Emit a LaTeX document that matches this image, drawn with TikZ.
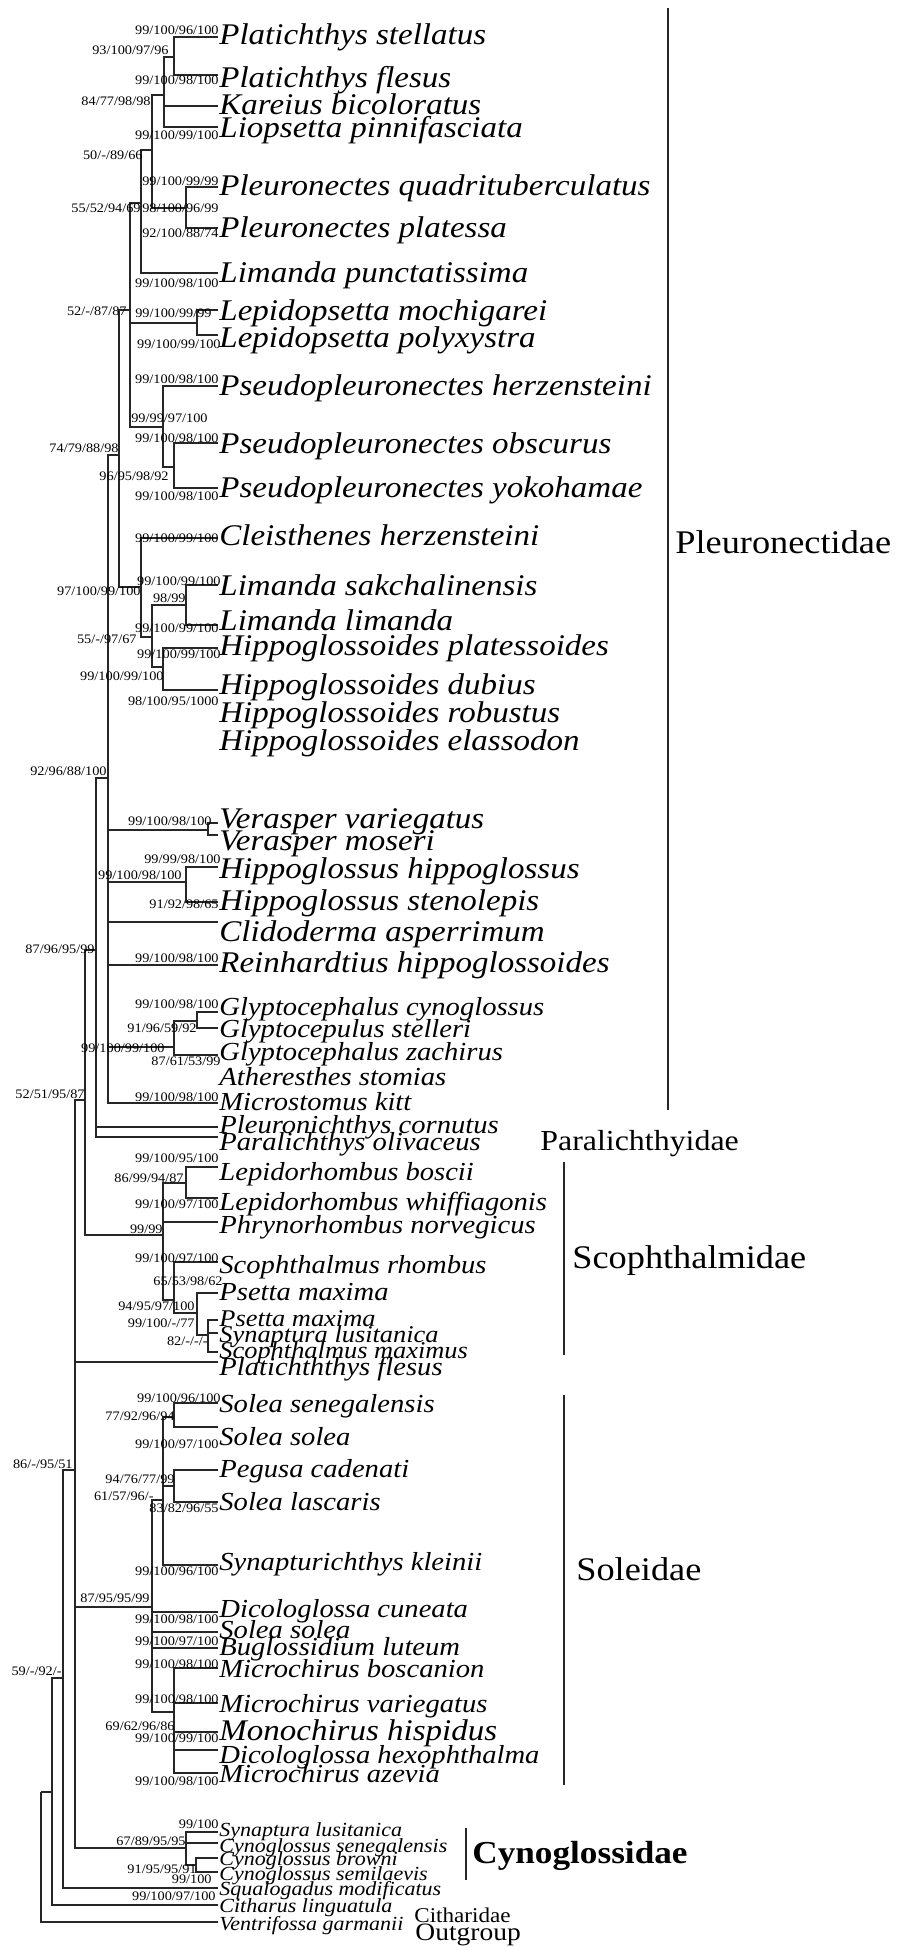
\documentclass[tikz,border=0pt]{standalone}
\usepackage{fontspec}
\setmainfont{Liberation Serif}[FakeStretch=1.1]

\begin{document}
\begin{tikzpicture}[x=0.5pt,y=-0.5pt,
  br/.style={draw=black!85,line width=0.6pt},
  sp/.style={inner sep=0pt,anchor=base west,font=\fontsize{15}{15}\selectfont\itshape},
  spm/.style={sp,font=\fontsize{13}{13}\selectfont\itshape},
  spn/.style={sp,font=\fontsize{12}{12}\selectfont\itshape},
  sps/.style={sp,font=\fontsize{10}{10}\selectfont\itshape},
  bs/.style={inner sep=0pt,anchor=base east,font=\fontsize{6.5}{6.5}\selectfont},
  fam/.style={inner sep=0pt,anchor=base west,font=\fontsize{16.5}{16.5}\selectfont}]
\useasboundingbox (0,0) rectangle (904,1948);

% species names and branch tips
\node[sp] (stel) at (219,45) {Platichthys stellatus};        \coordinate (tstel) at (218,37);
\node[sp] (fles) at (219,88) {Platichthys flesus};           \coordinate (tfles) at (218,75);
\node[sp] (kare) at (219,115) {Kareius bicoloratus};         \coordinate (tkare) at (218,106);
\node[sp] (liop) at (219,138) {Liopsetta pinnifasciata};     \coordinate (tliop) at (218,127);
\node[sp] (pqua) at (219,195) {Pleuronectes quadrituberculatus}; \coordinate (tpqua) at (218,187);
\node[sp] (ppla) at (219,237) {Pleuronectes platessa};       \coordinate (tppla) at (218,228);
\node[sp] (lpun) at (219,282) {Limanda punctatissima};       \coordinate (tlpun) at (218,273);
\node[sp] (lmoc) at (219,320) {Lepidopsetta mochigarei};     \coordinate (tlmoc) at (218,310);
\node[sp] (lpol) at (219,347) {Lepidopsetta polyxystra};     \coordinate (tlpol) at (218,335);
\node[sp] (pher) at (219,395) {Pseudopleuronectes herzensteini}; \coordinate (tpher) at (218,386);
\node[sp] (pobs) at (219,453) {Pseudopleuronectes obscurus}; \coordinate (tpobs) at (218,443);
\node[sp] (pyok) at (219,497) {Pseudopleuronectes yokohamae}; \coordinate (tpyok) at (218,488);
\node[sp] (cher) at (219,545) {Cleisthenes herzensteini};    \coordinate (tcher) at (218,538);
\node[sp] (lsak) at (219,595) {Limanda sakchalinensis};      \coordinate (tlsak) at (218,585);
\node[sp] (llim) at (219,630) {Limanda limanda};             \coordinate (tllim) at (218,625);
\node[sp] (hpla) at (219,655) {Hippoglossoides platessoides}; \coordinate (thpla) at (218,648);
\node[sp] (hdub) at (219,694) {Hippoglossoides dubius};      \coordinate (thdub) at (218,690);
\node[sp] (hrob) at (219,722) {Hippoglossoides robustus};
\node[sp] (hela) at (219,750) {Hippoglossoides elassodon};
\node[sp] (vvar) at (219,828) {Verasper variegatus};         \coordinate (tvvar) at (218,823);
\node[sp] (vmos) at (219,850) {Verasper moseri};             \coordinate (tvmos) at (218,835);
\node[sp] (hhip) at (219,878) {Hippoglossus hippoglossus};   \coordinate (thhip) at (218,867);
\node[sp] (hste) at (219,910) {Hippoglossus stenolepis};     \coordinate (thste) at (218,902);
\node[sp] (casp) at (219,941) {Clidoderma asperrimum};       \coordinate (tcasp) at (218,922);
\node[sp] (rhip) at (219,972) {Reinhardtius hippoglossoides}; \coordinate (trhip) at (218,965);
\node[spm] (gcyn) at (219,1015) {Glyptocephalus cynoglossus}; \coordinate (tgcyn) at (218,1012);
\node[spm] (gste) at (219,1037) {Glyptocepulus stelleri};    \coordinate (tgste) at (218,1028);
\node[spm] (gzac) at (219,1060) {Glyptocephalus zachirus};   \coordinate (tgzac) at (218,1055);
\node[spm] (asto) at (219,1085) {Atheresthes stomias};
\node[spm] (mkit) at (219,1110) {Microstomus kitt};          \coordinate (tmkit) at (218,1103);
\node[spm] (pcor) at (219,1133) {Pleuronichthys cornutus};   \coordinate (tpcor) at (218,1127);
\node[spm] (poli) at (219,1150) {Paralichthys olivaceus};    \coordinate (tpoli) at (218,1137);
\node[spm] (lbos) at (219,1180) {Lepidorhombus boscii};      \coordinate (tlbos) at (218,1167);
\node[spm] (lwhi) at (219,1210) {Lepidorhombus whiffiagonis}; \coordinate (tlwhi) at (218,1198);
\node[spm] (pnor) at (219,1233) {Phrynorhombus norvegicus};  \coordinate (tpnor) at (218,1222);
\node[spm] (srho) at (219,1273) {Scophthalmus rhombus};      \coordinate (tsrho) at (218,1262);
\node[spm] (psma) at (219,1300) {Psetta maxima};             \coordinate (tpsma) at (218,1293);
\node[spn] (psmb) at (219,1326) {Psetta maxima};             \coordinate (tpsmb) at (218,1320);
\node[spn] (slus) at (219,1342) {Synaptura lusitanica};      \coordinate (tslus) at (218,1333);
\node[spn] (smax) at (219,1358) {Scophthalmus maximus};      \coordinate (tsmax) at (218,1352);
\node[spm] (pflb) at (219,1375) {Platichththys flesus};      \coordinate (tpflb) at (218,1362);
\node[spm] (ssen) at (219,1412) {Solea senegalensis};        \coordinate (tssen) at (218,1403);
\node[spm] (ssol) at (219,1445) {Solea solea};               \coordinate (tssol) at (218,1427);
\node[spm] (pcad) at (219,1477) {Pegusa cadenati};           \coordinate (tpcad) at (218,1470);
\node[spm] (slas) at (219,1510) {Solea lascaris};            \coordinate (tslas) at (218,1502);
\node[spm] (skle) at (219,1570) {Synapturichthys kleinii};   \coordinate (tskle) at (218,1565);
\node[spm] (dcun) at (219,1617) {Dicologlossa cuneata};      \coordinate (tdcun) at (218,1612);
\node[spm] (ssob) at (219,1638) {Solea solea};               \coordinate (tssob) at (218,1632);
\node[spm] (blut) at (219,1655) {Buglossidium luteum};       \coordinate (tblut) at (218,1648);
\node[spm] (mbos) at (219,1677) {Microchirus boscanion};     \coordinate (tmbos) at (218,1668);
\node[spm] (mvar) at (219,1712) {Microchirus variegatus};    \coordinate (tmvar) at (218,1703);
\node[sp] (mhis) at (219,1740) {Monochirus hispidus};        \coordinate (tmhis) at (218,1732);
\node[spm] (dhex) at (219,1763) {Dicologlossa hexophthalma}; \coordinate (tdhex) at (218,1750);
\node[spm] (maze) at (219,1782) {Microchirus azevia};        \coordinate (tmaze) at (218,1773);
\node[sps] (clus) at (219,1836) {Synaptura lusitanica};      \coordinate (tclus) at (218,1832);
\node[sps] (csen) at (219,1852) {Cynoglossus senegalensis};  \coordinate (tcsen) at (218,1843);
\node[sps] (cbro) at (219,1865) {Cynoglossus browni};        \coordinate (tcbro) at (218,1858);
\node[sps] (csem) at (219,1880) {Cynoglossus semilaevis};    \coordinate (tcsem) at (218,1872);
\node[sps] (squa) at (219,1895) {Squalogadus modificatus};   \coordinate (tsqua) at (218,1888);
\node[sps] (clin) at (219,1912) {Citharus linguatula};       \coordinate (tclin) at (218,1905);
\node[sps] (vgar) at (219,1930) {Ventrifossa garmanii};      \coordinate (tvgar) at (218,1922);

% internal nodes
\coordinate (nA) at (174,57);   \coordinate (nB) at (164,95);
\coordinate (nC) at (186,208);  \coordinate (nD) at (152,150);
\coordinate (nE) at (141,203);  \coordinate (nL) at (197,323);
\coordinate (nH) at (174,467);  \coordinate (nG) at (163,427);
\coordinate (nF) at (130,310);  \coordinate (nM) at (186,605);
\coordinate (nN) at (163,667);  \coordinate (nK) at (152,637);
\coordinate (nJ) at (141,587);  \coordinate (nI) at (119,455);
\coordinate (nR) at (208,830);  \coordinate (nS) at (186,882);
\coordinate (nT) at (197,1021); \coordinate (nU) at (174,1047);
\coordinate (nP) at (108,778);  \coordinate (nQ) at (96,950);
\coordinate (nY) at (186,1183); \coordinate (nZa) at (208,1335);
\coordinate (nZb) at (197,1313); \coordinate (nZc) at (174,1300);
\coordinate (nW) at (163,1235); \coordinate (nV) at (85,1100);
\coordinate (nSa) at (174,1417); \coordinate (nSc) at (174,1486);
\coordinate (nSb) at (163,1500); \coordinate (nSe) at (174,1712);
\coordinate (nSd) at (152,1607); \coordinate (nCb) at (196,1865);
\coordinate (nCa) at (186,1848); \coordinate (nX) at (75,1470);
\coordinate (nAA) at (63,1678); \coordinate (nAB) at (52,1792);
\coordinate (root) at (41,1792);

% branches
\draw[br] (nA) |- (tstel) (nA) |- (tfles);
\draw[br] (nB) |- (nA) (nB) |- (tkare) (nB) |- (tliop);
\draw[br] (nC) |- (tpqua) (nC) |- (tppla);
\draw[br] (nD) |- (nB) (nD) |- (nC);
\draw[br] (nE) |- (nD) (nE) |- (tlpun);
\draw[br] (nL) |- (tlmoc) (nL) |- (tlpol);
\draw[br] (nH) |- (tpobs) (nH) |- (tpyok);
\draw[br] (nG) |- (tpher) (nG) |- (nH);
\draw[br] (nF) |- (nE) (nF) |- (nL) (nF) |- (nG);
\draw[br] (nM) |- (tlsak) (nM) |- (tllim);
\draw[br] (nN) |- (thpla) (nN) |- (thdub);
\draw[br] (nK) |- (nM) (nK) |- (nN);
\draw[br] (nJ) |- (tcher) (nJ) |- (nK);
\draw[br] (nI) |- (nF) (nI) |- (nJ);
\draw[br] (nR) |- (tvvar) (nR) |- (tvmos);
\draw[br] (nS) |- (thhip) (nS) |- (thste);
\draw[br] (nT) |- (tgcyn) (nT) |- (tgste);
\draw[br] (nU) |- (nT) (nU) |- (tgzac);
\draw[br] (nP) |- (nI) (nP) |- (nR) (nP) |- (nS) (nP) |- (tcasp)
  (nP) |- (trhip) (nP) |- (nU) (nP) |- (tmkit);
\draw[br] (nQ) |- (nP) (nQ) |- (tpcor) (nQ) |- (tpoli);
\draw[br] (nY) |- (tlbos) (nY) |- (tlwhi);
\draw[br] (nZa) |- (tpsmb) (nZa) |- (tslus) (nZa) |- (tsmax);
\draw[br] (nZb) |- (tpsma) (nZb) |- (nZa);
\draw[br] (nZc) |- (tsrho) (nZc) |- (nZb);
\draw[br] (nW) |- (nY) (nW) |- (tpnor) (nW) |- (nZc);
\draw[br] (nV) |- (nQ) (nV) |- (nW);
\draw[br] (nSa) |- (tssen) (nSa) |- (tssol);
\draw[br] (nSc) |- (tpcad) (nSc) |- (tslas);
\draw[br] (nSb) |- (nSa) (nSb) |- (nSc) (nSb) |- (tskle);
\draw[br] (nSe) |- (tmbos) (nSe) |- (tmvar) (nSe) |- (tmhis) (nSe) |- (tdhex) (nSe) |- (tmaze);
\draw[br] (nSd) |- (nSb) (nSd) |- (tdcun) (nSd) |- (tssob) (nSd) |- (tblut) (nSd) |- (nSe);
\draw[br] (nCb) |- (tcbro) (nCb) |- (tcsem);
\draw[br] (nCa) |- (tclus) (nCa) |- (tcsen) (nCa) |- (nCb);
\draw[br] (nX) |- (nV) (nX) |- (tpflb) (nX) |- (nSd) (nX) |- (nCa);
\draw[br] (nAA) |- (nX) (nAA) |- (tsqua);
\draw[br] (nAB) |- (nAA) (nAB) |- (tclin);
\draw[br] (root) |- (nAB) (root) |- (tvgar);

% support values
\node[bs] (b1) at (219,35) {99/100/96/100};
\node[bs] (b2) at (169,55) {93/100/97/96};
\node[bs] (b3) at (219,85) {99/100/98/100};
\node[bs] (b4) at (151,105) {84/77/98/98};
\node[bs] (b5) at (219,140) {99/100/99/100};
\node[bs] (b6) at (143,160) {50/-/89/66};
\node[bs] (b7) at (219,185) {99/100/99/99};
\node[bs] (b8) at (141,212) {55/52/94/69};
\node[bs] (b9) at (219,212) {98/100/96/99};
\node[bs] (b10) at (219,237) {92/100/88/74};
\node[bs] (b11) at (219,287) {99/100/98/100};
\node[bs] (b12) at (127,315) {52/-/87/87};
\node[bs] (b13) at (212,317) {99/100/99/99};
\node[bs] (b14) at (221,348) {99/100/99/100};
\node[bs] (b15) at (219,383) {99/100/98/100};
\node[bs] (b16) at (208,422) {99/99/97/100};
\node[bs] (b17) at (219,442) {99/100/98/100};
\node[bs] (b18) at (119,452) {74/79/88/98};
\node[bs] (b19) at (169,480) {96/95/98/92};
\node[bs] (b20) at (219,500) {99/100/98/100};
\node[bs] (b21) at (219,542) {99/100/99/100};
\node[bs] (b22) at (221,585) {99/100/99/100};
\node[bs] (b23) at (141,595) {97/100/99/100};
\node[bs] (b24) at (186,602) {98/99};
\node[bs] (b25) at (219,632) {99/100/99/100};
\node[bs] (b26) at (137,643) {55/-/97/67};
\node[bs] (b27) at (221,658) {99/100/99/100};
\node[bs] (b28) at (164,680) {99/100/99/100};
\node[bs] (b29) at (219,705) {98/100/95/1000};
\node[bs] (b30) at (107,775) {92/96/88/100};
\node[bs] (b31) at (212,825) {99/100/98/100};
\node[bs] (b32) at (221,863) {99/99/98/100};
\node[bs] (b33) at (182,879) {99/100/98/100};
\node[bs] (b34) at (219,908) {91/92/98/65};
\node[bs] (b35) at (95,953) {87/96/95/99};
\node[bs] (b36) at (219,962) {99/100/98/100};
\node[bs] (b37) at (219,1008) {99/100/98/100};
\node[bs] (b38) at (197,1032) {91/96/59/92};
\node[bs] (b39) at (165,1052) {99/100/99/100};
\node[bs] (b40) at (221,1065) {87/61/53/99};
\node[bs] (b41) at (85,1098) {52/51/95/87};
\node[bs] (b42) at (219,1101) {99/100/98/100};
\node[bs] (b43) at (219,1162) {99/100/95/100};
\node[bs] (b44) at (184,1182) {86/99/94/87};
\node[bs] (b45) at (219,1208) {99/100/97/100};
\node[bs] (b46) at (163,1233) {99/99};
\node[bs] (b47) at (219,1262) {99/100/97/100};
\node[bs] (b48) at (223,1285) {65/53/98/62};
\node[bs] (b49) at (195,1310) {94/95/97/100};
\node[bs] (b50) at (195,1327) {99/100/-/77};
\node[bs] (b51) at (208,1345) {82/-/-/-};
\node[bs] (b52) at (221,1402) {99/100/96/100};
\node[bs] (b53) at (175,1420) {77/92/96/94};
\node[bs] (b54) at (219,1448) {99/100/97/100};
\node[bs] (b55) at (73,1468) {86/-/95/51};
\node[bs] (b56) at (175,1483) {94/76/77/99};
\node[bs] (b57) at (154,1500) {61/57/96/-};
\node[bs] (b58) at (219,1512) {83/82/96/55};
\node[bs] (b59) at (219,1575) {99/100/96/100};
\node[bs] (b60) at (150,1602) {87/95/95/99};
\node[bs] (b61) at (219,1623) {99/100/98/100};
\node[bs] (b62) at (219,1645) {99/100/97/100};
\node[bs] (b63) at (219,1668) {99/100/98/100};
\node[bs] (b64) at (62,1675) {59/-/92/-};
\node[bs] (b65) at (219,1703) {99/100/98/100};
\node[bs] (b66) at (175,1730) {69/62/96/86};
\node[bs] (b67) at (219,1742) {99/100/99/100};
\node[bs] (b68) at (219,1785) {99/100/98/100};
\node[bs] (b69) at (219,1828) {99/100};
\node[bs] (b70) at (186,1845) {67/89/95/95};
\node[bs] (b71) at (197,1873) {91/95/95/91};
\node[bs] (b72) at (212,1883) {99/100};
\node[bs] (b73) at (216,1900) {99/100/97/100};

% families
\coordinate (pla) at (668,8);    \coordinate (plb) at (668,1110);
\coordinate (sca) at (564,1162); \coordinate (scb) at (564,1355);
\coordinate (soa) at (564,1395); \coordinate (sob) at (564,1785);
\coordinate (cya) at (466,1828); \coordinate (cyb) at (466,1880);
\draw[br] (pla) -- (plb);
\draw[br] (sca) -- (scb);
\draw[br] (soa) -- (sob);
\draw[br,line width=0.9pt] (cya) -- (cyb);
\node[fam] (pleu) at (675,553) {Pleuronectidae};
\node[fam,font=\fontsize{14.5}{14.5}\selectfont] (para) at (540,1150) {Paralichthyidae};
\node[fam] (scop) at (572,1268) {Scophthalmidae};
\node[fam] (sole) at (576,1580) {Soleidae};
\node[fam,font=\fontsize{16}{16}\selectfont\bfseries] (cyno) at (472,1863) {Cynoglossidae};
\node[fam,font=\fontsize{10.5}{10.5}\selectfont] (cith) at (414,1922) {Citharidae};
\node[fam,font=\fontsize{12.5}{12.5}\selectfont] (outg) at (415,1940) {Outgroup};
\end{tikzpicture}
\end{document}
